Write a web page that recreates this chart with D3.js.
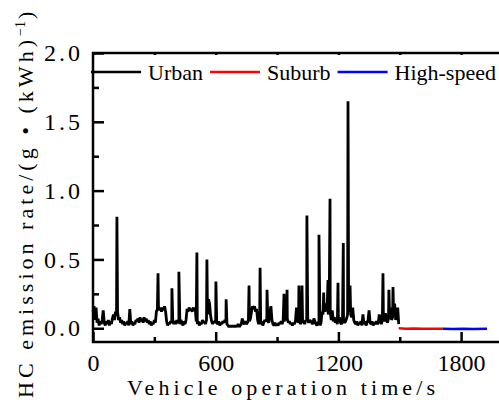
<!DOCTYPE html>
<html lang="en">
<head>
    <meta charset="utf-8">
    <title>HC emission rate</title>
    <style>
        body {
          margin:0;
          background:white;
        }
        .axis text {
          font-family:"Times New Roman", "Liberation Serif", "DejaVu Serif", serif;
          font-size:24px;
          fill:black;
        }
        .axis line {
          stroke:black;
          stroke-width:2.5px;
        }
        .legend text {
          font-family:"Times New Roman", "Liberation Serif", "DejaVu Serif", serif;
          font-size:22px;
        }
        .title {
          font-family:"Times New Roman", "Liberation Serif", "DejaVu Serif", serif;
          font-size:22px;
        }
    </style>
</head>
<body>
<div id="canvas"></div>
<script src="https://cdnjs.cloudflare.com/ajax/libs/d3/7.8.5/d3.min.js"></script>
<script>
    // Urban baseline, one reading every 5 s (0 .. 1495 s), one row per 100 s
    var urbanBase = [
      .12,.16,.06,.15,.04,.07,.02,.05,.03,.06,.13,.04,.02,.05,.03,.06,.02,.05,.03,.07,
      .10,.06,.12,.09,.12,.06,.08,.04,.06,.03,.05,.02,.04,.03,.05,.02,.14,.03,.05,.02,
      .04,.03,.06,.05,.07,.04,.08,.05,.07,.04,.08,.05,.07,.04,.06,.03,.05,.02,.04,.03,
      .06,.04,.12,.14,.16,.13,.15,.12,.15,.13,.16,.12,.05,.02,.04,.03,.05,.04,.06,.03,
      .05,.03,.06,.04,.05,.03,.06,.04,.02,.05,.03,.06,.14,.12,.15,.13,.14,.12,.15,.13,
      .14,.05,.03,.05,.02,.04,.03,.06,.04,.05,.03,.06,.10,.21,.18,.09,.05,.03,.05,.04,
      .06,.04,.03,.05,.02,.04,.03,.05,.04,.06,.05,.03,.02,.01,.02,.01,.02,.01,.02,.01,
      .02,.01,.03,.01,.02,.03,.07,.04,.03,.05,.03,.04,.06,.05,.07,.12,.16,.14,.16,.12,
      .14,.06,.03,.05,.03,.05,.02,.04,.06,.05,.07,.05,.04,.12,.16,.06,.03,.02,.04,.02,
      .03,.02,.04,.03,.05,.03,.06,.05,.08,.06,.07,.04,.05,.03,.04,.02,.04,.03,.05,.15,
      .06,.04,.05,.03,.06,.04,.05,.03,.06,.05,.06,.04,.06,.05,.04,.03,.07,.05,.03,.02,
      .04,.05,.02,.04,.12,.10,.15,.12,.18,.14,.10,.15,.12,.06,.13,.05,.08,.04,.06,.03,
      .05,.08,.04,.03,.05,.06,.04,.05,.07,.10,.12,.15,.10,.08,.15,.06,.04,.03,.05,.02,
      .04,.03,.05,.02,.10,.03,.05,.02,.04,.06,.13,.04,.03,.05,.02,.04,.03,.05,.03,.04,
      .10,.05,.03,.06,.08,.05,.11,.06,.04,.07,.10,.15,.06,.08,.10,.18,.06,.09,.15,.03
    ];
    var sampleStep = 5;

    // Urban peaks [time s, rate]
    var urbanPeaks = [
      [117,0.81],[318,0.40],[386,0.29],[420,0.41],[508,0.55],[557,0.50],[601,0.34],
      [651,0.21],[763,0.31],[817,0.44],[851,0.28],[934,0.25],[949,0.28],[1007,0.31],
      [1022,0.31],[1046,0.82],[1105,0.68],[1128,0.26],[1149,0.35],[1159,0.94],
      [1198,0.33],[1224,0.62],[1247,1.65],[1257,0.31],[1418,0.40],[1447,0.28],[1467,0.30]
    ];

    var suburb = [[1495,0.0],[1530,-0.004],[1570,-0.002],[1610,-0.004],[1650,-0.003],[1690,-0.004],[1711,-0.003]];
    var highSpeed = [[1711,-0.004],[1760,-0.005],[1810,-0.004],[1860,-0.005],[1927,-0.004]];

    var xTicks = [0, 600, 1200, 1800],
        xMinor = [300, 900, 1500],
        yTicks = [0, 0.5, 1.0, 1.5, 2.0],
        yMinor = [0.25, 0.75, 1.25, 1.75];

    var legendItems = [
      {name:"Urban", color:"black"},
      {name:"Suburb", color:"#ff0000"},
      {name:"High-speed", color:"#0000ff"}
    ];

    var margin = {top:53, right:0, bottom:58, left:93},
        width = 409,
        height = 289;

    var x = d3.scaleLinear().domain([0, 2000]).range([0, width]),
        y = d3.scaleLinear().domain([-0.1, 2.0]).range([height, 0]);

    var root = d3.select("#canvas").append("svg")
        .attr("width", 499)
        .attr("height", 400)
        .style("display", "block");

    var svg = root.append("g")
        .attr("transform", "translate(" + margin.left + "," + margin.top + ")");

    var urban = urbanBase.map(function(v, i){ return [i*sampleStep, v]; })
        .concat(urbanPeaks)
        .sort(function(a, b){ return a[0] - b[0]; });

    var line = d3.line()
        .x(function(d){ return x(d[0]); })
        .y(function(d){ return y(d[1]); });

    svg.append("path").datum(urban)
        .attr("d", line)
        .attr("fill", "none")
        .attr("stroke", "black")
        .attr("stroke-width", 2.8)
        .attr("stroke-linejoin", "bevel");

    svg.append("path").datum(suburb)
        .attr("d", line)
        .attr("fill", "none")
        .attr("stroke", "#ff0000")
        .attr("stroke-width", 2.5);

    svg.append("path").datum(highSpeed)
        .attr("d", line)
        .attr("fill", "none")
        .attr("stroke", "#0000ff")
        .attr("stroke-width", 2.5);

    //Axes, ticks point inward
    function styleAxis(g){
      g.select(".domain").remove();
      g.attr("font-family", null).attr("font-size", null);
    }

    svg.append("g")
        .attr("class", "axis")
        .attr("transform", "translate(0," + height + ")")
        .call(d3.axisBottom(x).tickValues(xTicks).tickSize(-10).tickPadding(12).tickFormat(d3.format("d")))
        .call(styleAxis);
    svg.append("g")
        .attr("class", "axis")
        .attr("transform", "translate(0," + height + ")")
        .call(d3.axisBottom(x).tickValues(xMinor).tickSize(-5).tickFormat(""))
        .call(styleAxis);
    svg.append("g")
        .attr("class", "axis")
        .call(d3.axisTop(x).tickValues(xTicks.concat(xMinor)).tickSize(-2).tickFormat(""))
        .call(styleAxis);

    svg.append("g")
        .attr("class", "axis")
        .call(d3.axisLeft(y).tickValues(yTicks).tickSize(-11).tickPadding(10).tickFormat(d3.format(".1f")))
        .call(styleAxis)
        .selectAll("text").style("letter-spacing", "3px");
    svg.append("g")
        .attr("class", "axis")
        .call(d3.axisLeft(y).tickValues(yMinor).tickSize(-6).tickFormat(""))
        .call(styleAxis);

    svg.append("rect")
        .attr("width", width)
        .attr("height", height)
        .attr("fill", "none")
        .attr("stroke", "black")
        .attr("stroke-width", 2.5);

    //Legend
    var legend = root.append("g").attr("class", "legend");
    var lx = 91;
    legendItems.forEach(function(d){
      legend.append("line")
        .attr("x1", lx).attr("x2", lx + 50)
        .attr("y1", 72).attr("y2", 72)
        .attr("stroke", d.color)
        .attr("stroke-width", 2.5);
      var t = legend.append("text")
        .text(d.name)
        .attr("x", lx + 57)
        .attr("y", 80);
      lx = lx + 57 + t.node().getComputedTextLength() + 7;
    });

    //Axis titles
    root.append("text")
        .attr("class", "title")
        .text("Vehicle operation time/s")
        .attr("x", 127)
        .attr("y", 395)
        .attr("textLength", 308)
        .attr("lengthAdjust", "spacing");

    var ytitle = root.append("text")
        .attr("class", "title")
        .attr("transform", "rotate(-90)")
        .attr("x", -398)
        .attr("y", 33);
    ytitle.append("tspan").text("HC emission rate/(g \u2022 (kWh)")
        .attr("textLength", 358)
        .attr("lengthAdjust", "spacing");
    ytitle.append("tspan").text("\u22121").attr("dy", -8).style("font-size", "14px");
    ytitle.append("tspan").text(")").attr("dy", 8).attr("dx", 2);
</script>
</body>
</html>
